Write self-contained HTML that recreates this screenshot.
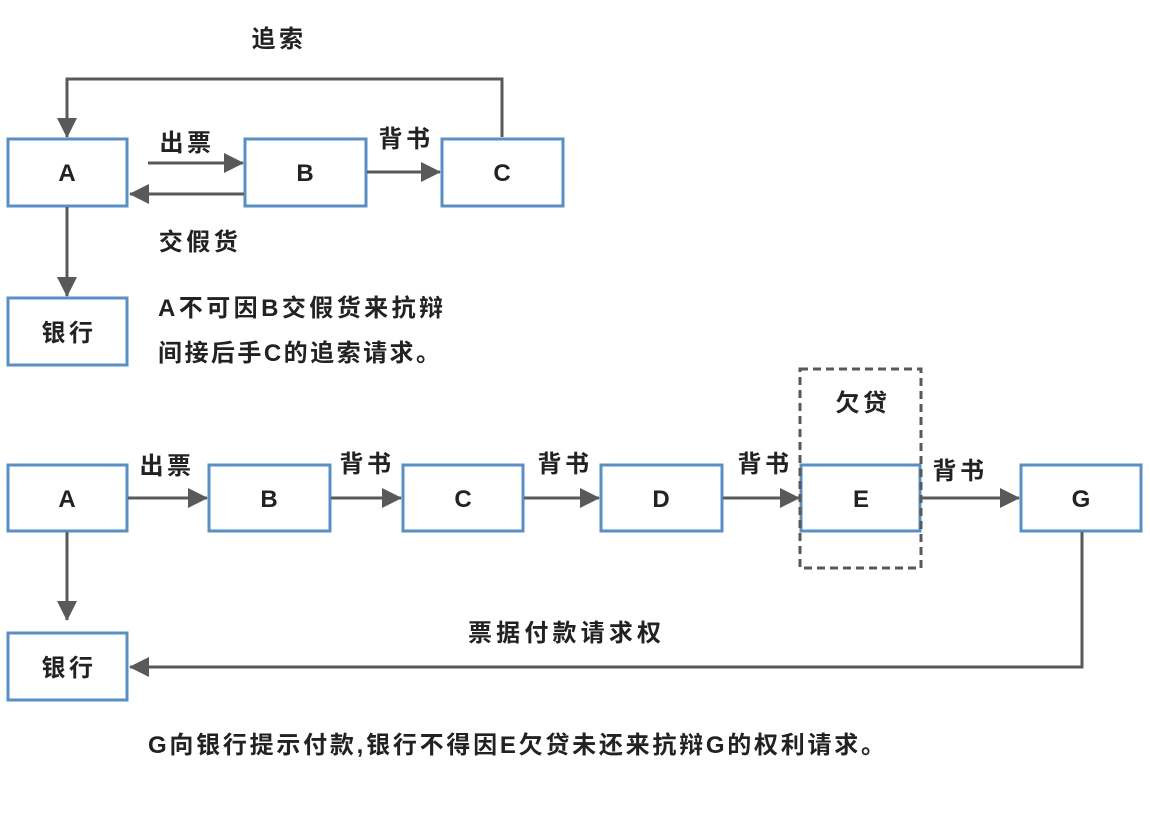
<!DOCTYPE html>
<html><head><meta charset="utf-8"><style>
body{margin:0;background:#fff}
svg text{font-family:"Liberation Sans","Noto Sans CJK SC",sans-serif;font-weight:bold;fill:#222;font-size:24px}
.l{letter-spacing:3.5px}
</style></head><body>
<svg width="1150" height="823" viewBox="0 0 1150 823" xmlns="http://www.w3.org/2000/svg">
<defs>
<marker id="a2" markerWidth="20" markerHeight="20" refX="19" refY="10" orient="auto" markerUnits="userSpaceOnUse"><path d="M0,0 L20,10 L0,20z" fill="#595959"/></marker></defs>
<g fill="#fff" stroke="#5a8fc3" stroke-width="3">
<rect x="8" y="139" width="119" height="67"/><rect x="245" y="139" width="121" height="67"/><rect x="442" y="139" width="121" height="67"/>
<rect x="8" y="298" width="119" height="67"/>
<rect x="8" y="465" width="119" height="66"/><rect x="209" y="465" width="121" height="66"/><rect x="403" y="465" width="120" height="66"/><rect x="601" y="465" width="121" height="66"/><rect x="801" y="465" width="119" height="66"/><rect x="1021" y="465" width="120" height="66"/>
<rect x="8" y="633" width="119" height="67"/>
</g>
<rect x="800" y="369" width="121" height="199" fill="none" stroke="#595959" stroke-width="3" stroke-dasharray="8,5"/>
<g stroke="#595959" stroke-width="3" fill="none">
<polyline points="502,137 502,79 67,79 67,137" marker-end="url(#a2)"/>
<line x1="148" y1="163" x2="243" y2="163" marker-end="url(#a2)"/>
<line x1="244" y1="194" x2="130" y2="194" marker-end="url(#a2)"/>
<line x1="367" y1="172" x2="440" y2="172" marker-end="url(#a2)"/>
<line x1="67" y1="207" x2="67" y2="296" marker-end="url(#a2)"/>
<line x1="128" y1="498" x2="207" y2="498" marker-end="url(#a2)"/>
<line x1="331" y1="498" x2="401" y2="498" marker-end="url(#a2)"/>
<line x1="524" y1="498" x2="599" y2="498" marker-end="url(#a2)"/>
<line x1="723" y1="498" x2="799" y2="498" marker-end="url(#a2)"/>
<line x1="922" y1="498" x2="1019" y2="498" marker-end="url(#a2)"/>
<line x1="67" y1="532" x2="67" y2="620" marker-end="url(#a2)"/>
<polyline points="1082,532 1082,667 130,667" marker-end="url(#a2)"/>
</g>
<g text-anchor="middle">
<text x="67" y="181">A</text><text x="305" y="181">B</text><text x="502" y="181">C</text>
<text x="69" y="341" class="l">银行</text>
<text x="67" y="507">A</text><text x="269" y="507">B</text><text x="463" y="507">C</text><text x="661" y="507">D</text><text x="861" y="507">E</text><text x="1081" y="507">G</text>
<text x="69" y="676" class="l">银行</text>
<text x="279" y="47" class="l">追索</text><text x="187" y="151" class="l">出票</text><text x="406" y="147" class="l">背书</text><text x="200" y="250" class="l">交假货</text>
<text x="167" y="474" class="l">出票</text><text x="367" y="472" class="l">背书</text><text x="565" y="472" class="l">背书</text><text x="765" y="472" class="l">背书</text><text x="960" y="479" class="l">背书</text>
<text x="863" y="411" class="l">欠贷</text>
</g>
<text x="468" y="641" textLength="193" lengthAdjust="spacing">票据付款请求权</text>
<text x="148" y="753" textLength="737" lengthAdjust="spacing">G向银行提示付款,银行不得因E欠贷未还来抗辩G的权利请求。</text>
<text x="158" y="316" textLength="285" lengthAdjust="spacing">A不可因B交假货来抗辩</text>
<text x="158" y="361" textLength="282" lengthAdjust="spacing">间接后手C的追索请求。</text>
</svg>
</body></html>
